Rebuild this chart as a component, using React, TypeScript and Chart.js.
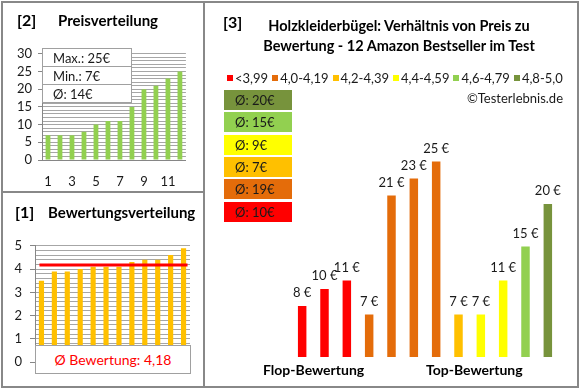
import React, { useEffect, useRef } from 'react';
import { Chart, registerables } from 'chart.js';

Chart.register(...registerables);

const FONT = 'Lato, "Open Sans", sans-serif';

// ---- Data ----
const priceLabels = ['1', '2', '3', '4', '5', '6', '7', '8', '9', '10', '11', '12'];
const priceValues = [7, 7, 7, 8, 10, 11, 11, 15, 20, 21, 23, 25];

const ratingLabels = ['1', '2', '3', '4', '5', '6', '7', '8', '9', '10', '11', '12'];
const ratingValues = [3.5, 3.9, 3.9, 4.0, 4.1, 4.1, 4.1, 4.3, 4.4, 4.4, 4.6, 4.9];
const ratingAverage = 4.18;

const productLabels = ['1', '2', '3', '4', '5', '6', '7', '8', '9', '10', '11', '12'];
const productPrices = [8, 10, 11, 7, 21, 23, 25, 7, 7, 11, 15, 20];
const productColors = [
  '#FF0000', '#FF0000', '#FF0000',
  '#E46C0A', '#E46C0A', '#E46C0A', '#E46C0A',
  '#FFC000', '#FFFF00', '#FFFF00', '#92D050', '#77933C',
];

const legendLabels = ['<3,99', '4,0-4,19', '4,2-4,39', '4,4-4,59', '4,6-4,79', '4,8-5,0'];
const legendColors = ['#FF0000', '#E46C0A', '#FFC000', '#FFFF00', '#92D050', '#77933C'];

const groupAverages = [20, 15, 9, 7, 19, 10];
const groupAverageColors = ['#77933C', '#92D050', '#FFFF00', '#FFC000', '#E46C0A', '#FF0000'];

const priceTickLabels = ['1', '', '3', '', '5', '', '7', '', '9', '', '11', ''];

// ---- helpers ----
const GRID = '#A6A6A6';
const AXIS = '#868686';
const TICK_TEXT = '#1a1a1a';

function useChart(ref: React.RefObject<HTMLCanvasElement | null>, make: () => any) {
  useEffect(() => {
    if (!ref.current) return;
    const chart = new Chart(ref.current, make());
    return () => chart.destroy();
  }, []);
}

const isInt = (v: number) => Math.abs(v - Math.round(v)) < 1e-6;

function Txt(props: { x: number; cy: number; size: number; bold?: boolean; color?: string; children: React.ReactNode; style?: React.CSSProperties }) {
  const lh = props.size + 6;
  return (
    <div
      style={{
        position: 'absolute',
        left: props.x,
        top: props.cy - lh / 2,
        lineHeight: lh + 'px',
        fontSize: props.size,
        fontWeight: props.bold ? 700 : 400,
        color: props.color || '#000',
        whiteSpace: 'nowrap',
        ...props.style,
      }}
    >
      {props.children}
    </div>
  );
}

function PriceChart() {
  const ref = useRef<HTMLCanvasElement>(null);
  useChart(ref, () => ({
    type: 'bar',
    data: {
      labels: priceLabels,
      datasets: [{ data: priceValues, backgroundColor: '#92D050', barPercentage: 0.4, categoryPercentage: 1 }],
    },
    options: {
      responsive: false,
      animation: false,
      layout: { padding: { top: 8, right: 2, left: 0, bottom: 0 } },
      plugins: { legend: { display: false }, tooltip: { enabled: false } },
      scales: {
        x: {
          grid: { display: false, drawTicks: false },
          border: { display: true, color: AXIS },
          ticks: {
            autoSkip: false,
            maxRotation: 0,
            padding: 14,
            color: TICK_TEXT,
            font: { family: FONT, size: 13 },
            callback: (_v: any, i: number) => priceTickLabels[i],
          },
          afterFit: (s: any) => { s.height = 28; },
        },
        y: {
          min: 0,
          max: 30,
          ticks: {
            stepSize: 1,
            autoSkip: false,
            padding: 6,
            color: TICK_TEXT,
            font: { family: FONT, size: 13 },
            callback: (v: number) => (v % 5 === 0 ? String(v) : ''),
          },
          grid: {
            color: GRID,
            tickLength: 4,
            tickColor: (c: any) => (c.tick && c.tick.value % 5 === 0 ? AXIS : 'rgba(0,0,0,0)'),
          },
          border: { color: AXIS },
          afterFit: (s: any) => { s.width = 34; },
        },
      },
    },
  }));
  return <canvas ref={ref} width={186} height={148} style={{ position: 'absolute', left: 8, top: 40 }} />;
}

function RatingChart() {
  const ref = useRef<HTMLCanvasElement>(null);
  const avgLine = {
    id: 'avgLine',
    afterDatasetsDraw(chart: any) {
      const { ctx, scales } = chart;
      const py = scales.y.getPixelForValue(ratingAverage);
      const x0 = scales.x.getPixelForValue(0) - 2;
      const x1 = scales.x.getPixelForValue(ratingValues.length - 1) + 4;
      ctx.save();
      ctx.strokeStyle = '#FF0000';
      ctx.lineWidth = 3;
      ctx.beginPath();
      ctx.moveTo(x0, py);
      ctx.lineTo(x1, py);
      ctx.stroke();
      ctx.restore();
    },
  };
  useChart(ref, () => ({
    type: 'bar',
    data: {
      labels: ratingLabels,
      datasets: [{ data: ratingValues, backgroundColor: '#FFC000', barPercentage: 0.4, categoryPercentage: 1 }],
    },
    options: {
      responsive: false,
      animation: false,
      layout: { padding: { top: 8, right: 3, left: 0, bottom: 4 } },
      plugins: { legend: { display: false }, tooltip: { enabled: false } },
      scales: {
        x: { display: false },
        y: {
          min: 0,
          max: 5,
          ticks: {
            stepSize: 0.2,
            autoSkip: false,
            padding: 8,
            color: TICK_TEXT,
            font: { family: FONT, size: 13 },
            callback: (v: number) => (isInt(v) ? String(Math.round(v)) : ''),
          },
          grid: {
            color: GRID,
            tickLength: 5,
            tickColor: (c: any) => (c.tick && isInt(c.tick.value) ? AXIS : 'rgba(0,0,0,0)'),
          },
          border: { color: AXIS },
          afterFit: (s: any) => { s.width = 30; },
        },
      },
    },
    plugins: [avgLine],
  }));
  return <canvas ref={ref} width={188} height={148} style={{ position: 'absolute', left: 5, top: 230 }} />;
}

function MainChart() {
  const ref = useRef<HTMLCanvasElement>(null);
  const valueLabels = {
    id: 'valueLabels',
    afterDatasetsDraw(chart: any) {
      const { ctx } = chart;
      const meta = chart.getDatasetMeta(0);
      ctx.save();
      ctx.font = `13px ${FONT}`;
      ctx.fillStyle = '#1a1a1a';
      ctx.textAlign = 'center';
      ctx.textBaseline = 'middle';
      meta.data.forEach((bar: any, i: number) => {
        ctx.fillText(`${productPrices[i]} €`, bar.x, bar.y - 13);
      });
      ctx.restore();
    },
  };
  useChart(ref, () => ({
    type: 'bar',
    data: {
      labels: productLabels,
      datasets: [{ data: productPrices, backgroundColor: productColors, barPercentage: 0.38, categoryPercentage: 1 }],
    },
    options: {
      responsive: false,
      animation: false,
      layout: { padding: { top: 19, right: 18, left: 86, bottom: 29 } },
      plugins: { legend: { display: false }, tooltip: { enabled: false } },
      scales: {
        x: { display: false },
        y: { display: false, min: 2, max: 30 },
      },
    },
    plugins: [valueLabels],
  }));
  return <canvas ref={ref} width={372} height={286} style={{ position: 'absolute', left: 205, top: 100 }} />;
}

export default function App() {
  const maxP = Math.max(...priceValues);
  const minP = Math.min(...priceValues);
  const avgP = Math.round(priceValues.reduce((a, b) => a + b, 0) / priceValues.length);
  const rowStyle: React.CSSProperties = {
    height: 18,
    lineHeight: '18px',
    paddingLeft: 10,
    fontSize: 13,
    color: '#1a1a1a',
    boxSizing: 'border-box',
  };
  return (
    <div
      style={{
        position: 'absolute',
        left: 0,
        top: 0,
        width: 580,
        height: 390,
        background: '#fff',
        fontFamily: FONT,
        overflow: 'hidden',
      }}
    >
      <PriceChart />
      <RatingChart />
      <MainChart />

      {/* frames */}
      <div style={{ position: 'absolute', left: 1, top: 1, width: 578, height: 387, border: '2px solid #888', boxSizing: 'border-box' }} />
      <div style={{ position: 'absolute', left: 203, top: 1, width: 2, height: 387, background: '#888' }} />
      <div style={{ position: 'absolute', left: 1, top: 191, width: 203, height: 2, background: '#888' }} />

      {/* Panel 2 */}
      <Txt x={17} cy={20} size={16} bold>[2]</Txt>
      <Txt x={58} cy={20} size={15} bold>Preisverteilung</Txt>
      <div style={{ position: 'absolute', left: 42, top: 48, width: 90, height: 55, background: '#fff', border: '1px solid #A0A0A0', boxSizing: 'border-box' }}>
        <div style={{ ...rowStyle, borderBottom: '1px solid #A0A0A0' }}>Max.: {maxP}€</div>
        <div style={{ ...rowStyle, borderBottom: '1px solid #A0A0A0' }}>Min.: {minP}€</div>
        <div style={rowStyle}>Ø: {avgP}€</div>
      </div>

      {/* Panel 1 */}
      <Txt x={15} cy={212} size={16} bold>[1]</Txt>
      <Txt x={48} cy={212} size={15} bold>Bewertungsverteilung</Txt>
      <div
        style={{
          position: 'absolute',
          left: 35,
          top: 345,
          width: 156,
          height: 29,
          background: '#fff',
          border: '1px solid #A0A0A0',
          boxSizing: 'border-box',
          textAlign: 'center',
          lineHeight: '27px',
          fontSize: 14,
          color: '#FF0000',
        }}
      >
        Ø Bewertung: {ratingAverage.toFixed(2).replace('.', ',')}
      </div>

      {/* Panel 3 */}
      <Txt x={223} cy={22} size={16} bold>[3]</Txt>
      <div
        style={{
          position: 'absolute',
          left: 239,
          top: 16,
          width: 320,
          textAlign: 'center',
          fontSize: 14.5,
          fontWeight: 700,
          lineHeight: '20px',
          color: '#000',
        }}
      >
        Holzkleiderbügel: Verhältnis von Preis zu
        <br />
        Bewertung - 12 Amazon Bestseller im Test
      </div>
      <div style={{ position: 'absolute', left: 227, top: 70, height: 16, display: 'flex', alignItems: 'center', fontSize: 13, color: '#1a1a1a', whiteSpace: 'nowrap' }}>
        {legendLabels.map((l, i) => (
          <div key={l} style={{ display: 'flex', alignItems: 'center', marginRight: 4 }}>
            <div style={{ width: 6, height: 6, background: legendColors[i], marginRight: 2 }} />
            <span>{l}</span>
          </div>
        ))}
      </div>
      <div style={{ position: 'absolute', right: 17, top: 90, lineHeight: '16px', fontSize: 13, color: '#1a1a1a' }}>©Testerlebnis.de</div>
      {groupAverages.map((v, i) => (
        <div
          key={i}
          style={{
            position: 'absolute',
            left: 224,
            top: 90 + i * 22.3,
            width: 68,
            height: 20,
            background: groupAverageColors[i],
            lineHeight: '20px',
            fontSize: 13,
            paddingLeft: 11,
            boxSizing: 'border-box',
            color: '#1a1a1a',
          }}
        >
          Ø: {v}€
        </div>
      ))}
      <Txt x={263} cy={370} size={14} bold>Flop-Bewertung</Txt>
      <Txt x={426} cy={370} size={14} bold>Top-Bewertung</Txt>
    </div>
  );
}
